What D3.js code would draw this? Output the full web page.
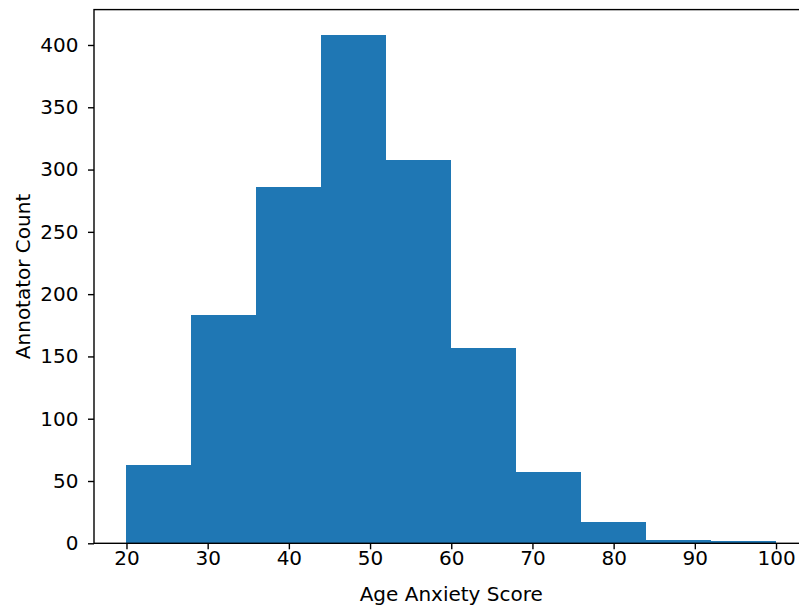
<!DOCTYPE html>
<html>
<head>
<meta charset="utf-8">
<script src="https://cdn.jsdelivr.net/npm/d3@7"></script>
<style>
  html, body { margin: 0; padding: 0; background: #fff; overflow: hidden; }
  svg { display: block; }
  text { font-family: "DejaVu Sans", sans-serif; }
</style>
</head>
<body>
<svg id="chart" width="799" height="608"></svg>
<script>
// Histogram bins (edges) and counts
const binEdges = [20, 28, 36, 44, 52, 60, 68, 76, 84, 92, 100];
const counts = [63, 183, 286, 408, 308, 157, 57, 17, 3, 2];
const xTicks = [20, 30, 40, 50, 60, 70, 80, 90, 100];
const yTicks = [0, 50, 100, 150, 200, 250, 300, 350, 400];
const xLabel = "Age Anxiety Score";
const yLabel = "Annotator Count";

(function () {
const svg = d3.select("#chart");
const mLeft = 94, mRight = 808.5, mTop = 9.6, mBottom = 543.3;
const fontFam = "'DejaVu Sans', sans-serif";

const xMin = binEdges[0], xMax = binEdges[binEdges.length - 1];
const xPad = (xMax - xMin) * 0.05;
const x = d3.scaleLinear().domain([xMin - xPad, xMax + xPad]).range([mLeft, mRight]);
const yMax = d3.max(counts) * 1.05;
const y = d3.scaleLinear().domain([0, yMax]).range([mBottom, mTop]);

const bins = counts.map((c, i) => ({ x0: binEdges[i], x1: binEdges[i + 1], c }));

svg.append("g").selectAll("rect").data(bins).join("rect")
  .attr("x", d => x(d.x0))
  .attr("width", d => x(d.x1) - x(d.x0))
  .attr("y", d => y(d.c))
  .attr("height", d => y(0) - y(d.c))
  .attr("fill", "#1f77b4")
  .attr("shape-rendering", "crispEdges");

const fs = 20;
const xAxis = svg.append("g").attr("transform", `translate(0,${mBottom})`)
  .call(d3.axisBottom(x).tickValues(xTicks).tickSize(6).tickPadding(2).tickFormat(d3.format("d")));
const yAxis = svg.append("g").attr("transform", `translate(${mLeft},0)`)
  .call(d3.axisLeft(y).tickValues(yTicks).tickSize(6).tickPadding(9.5).tickFormat(d3.format("d")));

[xAxis, yAxis].forEach(g => {
  g.select(".domain").remove();
  g.selectAll(".tick line").attr("stroke", "#000").attr("stroke-width", 1.4);
  g.selectAll(".tick text").attr("fill", "#000").style("font-size", fs + "px")
    .style("font-family", fontFam);
});

// spines
svg.append("rect")
  .attr("x", mLeft).attr("y", mTop)
  .attr("width", mRight - mLeft).attr("height", mBottom - mTop)
  .attr("fill", "none").attr("stroke", "#000").attr("stroke-width", 1.4);

svg.append("text")
  .attr("x", (mLeft + mRight) / 2).attr("y", 601)
  .attr("text-anchor", "middle").style("font-size", fs + "px")
  .style("font-family", fontFam)
  .text(xLabel);

svg.append("text")
  .attr("transform", `translate(30,${(mTop + mBottom) / 2}) rotate(-90)`)
  .attr("text-anchor", "middle").style("font-size", fs + "px")
  .style("font-family", fontFam)
  .text(yLabel);
})();
</script>
</body>
</html>
